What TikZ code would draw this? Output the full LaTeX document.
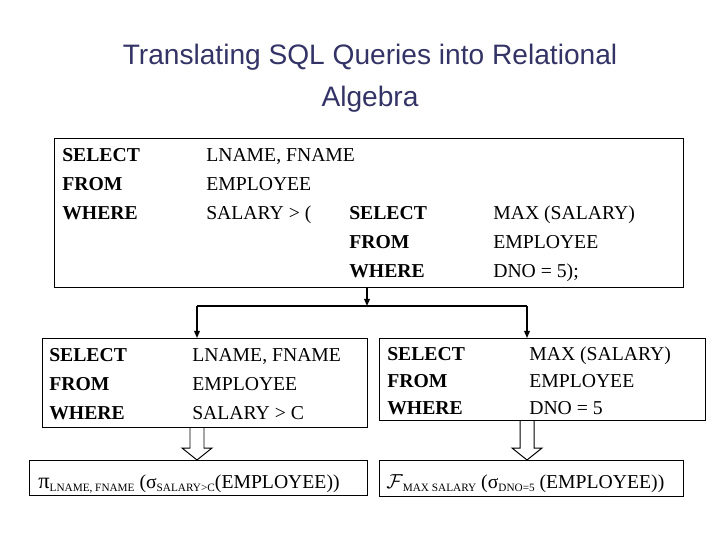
\documentclass[tikz,border=0pt]{standalone}
\usepackage{fontspec}
\setmainfont{Liberation Serif}
\newfontfamily\titlefont{Liberation Sans}
\usetikzlibrary{arrows.meta, positioning, calc}

\definecolor{titleblue}{RGB}{51,51,102}
\newcommand{\sqlsub}[1]{\raisebox{-0.35ex}{\fontsize{8}{8}\selectfont #1}}

\begin{document}
\begin{tikzpicture}[x=0.025cm, y=-0.025cm,
	box/.style={draw, line width=0.7pt, outer sep=0pt, inner sep=0pt, anchor=north west},
	txt/.style={anchor=base west, inner sep=0pt, font=\fontsize{14}{17}\selectfont},
	kw/.style={txt, font=\fontsize{14}{17}\selectfont\bfseries},
	link/.style={line width=1pt, -{Triangle[length=5pt, width=4pt]}},
	hollow/.style={draw, line width=0.7pt, line join=miter}]
	
	% parameters
	\def\pxl{0.025cm}     % one pixel of the slide
	\def\shaft{7}         % half width of a hollow arrow shaft
	\def\head{15}         % half width of a hollow arrow head
	\def\tip{12}          % length of a hollow arrow head
	
	\useasboundingbox (0,0) rectangle (720,540);
	
	% title
	\node[font=\titlefont\fontsize{20}{24}\selectfont, text=titleblue] (title1) at (370,57) {Translating SQL Queries into Relational};
	\node[font=\titlefont\fontsize{20}{24}\selectfont, text=titleblue] (title2) at (370,99) {Algebra};
	
	% nested query
	\node[box, minimum width=629*\pxl, minimum height=149*\pxl] (query) at (54,138) {};
	\node[kw]  (qsel)   at (62,161)  {SELECT};
	\node[kw]  (qfrom)  at (62,190)  {FROM};
	\node[kw]  (qwhere) at (62,219)  {WHERE};
	\node[txt] (qcols)  at (206,161) {LNAME, FNAME};
	\node[txt] (qtab)   at (206,190) {EMPLOYEE};
	\node[txt] (qcond)  at (206,219) {SALARY > (};
	\node[kw]  (isel)   at (349,219) {SELECT};
	\node[kw]  (ifrom)  at (349,248) {FROM};
	\node[kw]  (iwhere) at (349,277) {WHERE};
	\node[txt] (icols)  at (493,219) {MAX (SALARY)};
	\node[txt] (itab)   at (493,248) {EMPLOYEE};
	\node[txt] (icond)  at (493,277) {DNO = 5);};
	
	% outer block (left)
	\node[box, minimum width=325*\pxl, minimum height=89*\pxl] (outer) at (42,338) {};
	\node[kw]  (osel)   at (49,361)  {SELECT};
	\node[kw]  (ofrom)  at (49,390)  {FROM};
	\node[kw]  (owhere) at (49,419)  {WHERE};
	\node[txt] (ocols)  at (192,361) {LNAME, FNAME};
	\node[txt] (otab)   at (192,390) {EMPLOYEE};
	\node[txt] (ocond)  at (192,419) {SALARY > C};
	
	% inner block (right)
	\node[box, minimum width=326*\pxl, minimum height=82*\pxl] (inner) at (379,338) {};
	\node[kw]  (nsel)   at (387,360) {SELECT};
	\node[kw]  (nfrom)  at (387,387) {FROM};
	\node[kw]  (nwhere) at (387,414) {WHERE};
	\node[txt] (ncols)  at (529,360) {MAX (SALARY)};
	\node[txt] (ntab)   at (529,387) {EMPLOYEE};
	\node[txt] (ncond)  at (529,414) {DNO = 5};
	
	% relational algebra
	\node[box, minimum width=338*\pxl, minimum height=35*\pxl] (outalg) at (29,460) {};
	\node[txt] (outexpr) at (38,488) {{\fontsize{16}{17}\selectfont π}\sqlsub{LNAME, FNAME} (σ\sqlsub{SALARY>C}(EMPLOYEE))};
	\node[box, minimum width=304*\pxl, minimum height=36*\pxl] (inalg) at (379,460) {};
	\node[txt] (inexpr) at (386,488) {$\mathcal{F}$\sqlsub{MAX SALARY} (σ\sqlsub{DNO=5} (EMPLOYEE))};
	
	% split into two blocks
	\coordinate (split)  at (367,306);
	\coordinate (lsplit) at (197,306);
	\coordinate (rsplit) at (527,306);
	\draw[link] (query.south -| split) -- (split);
	\draw[line width=1pt] (lsplit) -- (rsplit);
	\draw[link] (lsplit) -- (lsplit |- outer.north);
	\draw[link] (rsplit) -- (rsplit |- inner.north);
	
	% translation arrows
	\coordinate (ltail) at (lsplit |- outer.south);
	\coordinate (ltip)  at (lsplit |- outalg.north);
	\coordinate (rtail) at (rsplit |- inner.south);
	\coordinate (rtip)  at (rsplit |- inalg.north);
	\draw[hollow] ($(ltail)+(-\shaft,0)$) -- ($(ltip)+(-\shaft,-\tip)$) -- ($(ltip)+(-\head,-\tip)$) -- (ltip)
		-- ($(ltip)+(\head,-\tip)$) -- ($(ltip)+(\shaft,-\tip)$) -- ($(ltail)+(\shaft,0)$);
	\draw[hollow] ($(rtail)+(-\shaft,0)$) -- ($(rtip)+(-\shaft,-\tip)$) -- ($(rtip)+(-\head,-\tip)$) -- (rtip)
		-- ($(rtip)+(\head,-\tip)$) -- ($(rtip)+(\shaft,-\tip)$) -- ($(rtail)+(\shaft,0)$);
	
\end{tikzpicture}
\end{document}
